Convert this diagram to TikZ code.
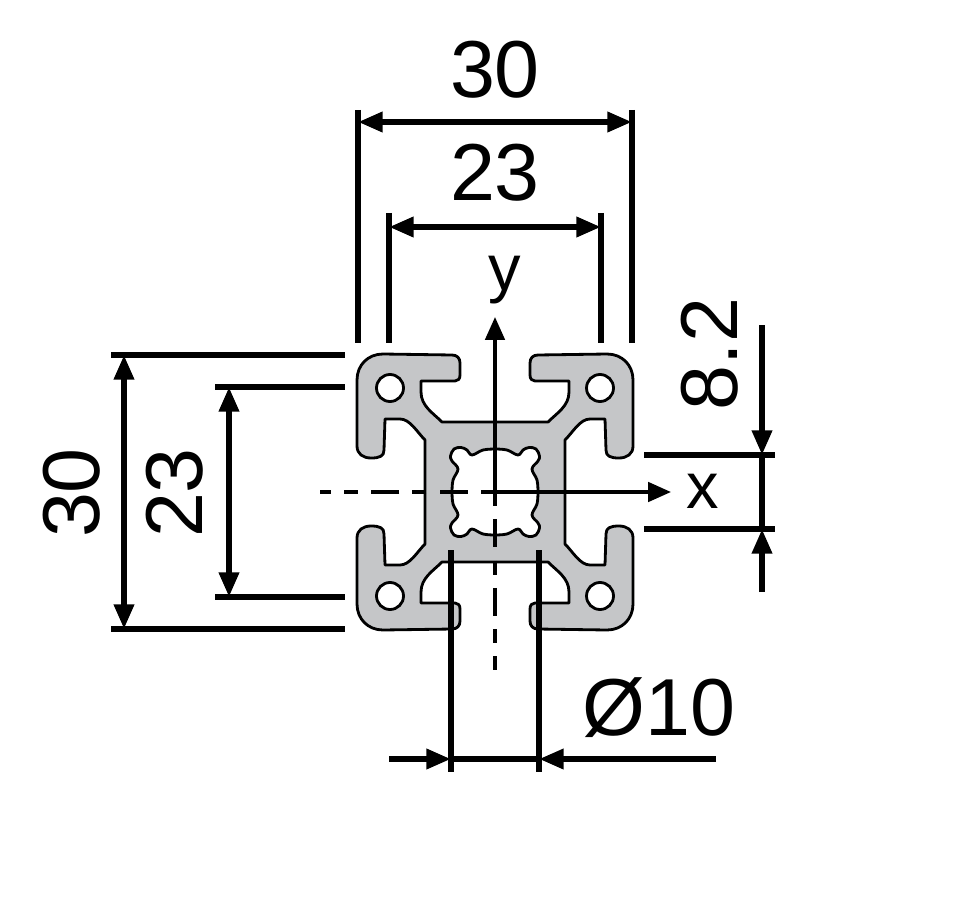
\documentclass[tikz,border=0pt]{standalone}
\usepackage{fontspec}
\setmainfont{Liberation Sans}
\usetikzlibrary{arrows.meta}
\definecolor{profilegray}{RGB}{197,198,200}
\tikzset{
  dimline/.style={line width=3.2pt,black},
  dimarrow/.style={dimline,{Triangle[length=14pt,width=11pt]}-{Triangle[length=14pt,width=11pt]}},
  dimtip/.style={dimline,-{Triangle[length=14pt,width=11pt]}},
  axisline/.style={line width=2pt,black,-{Triangle[length=13pt,width=11pt]}},
  centerline/.style={line width=2.4pt,black,dash pattern=on 8pt off 7.5pt on 16pt off 7.5pt},
  outline/.style={line width=1.6pt,black,line join=round},
  biglabel/.style={font=\fontsize{46}{50}\selectfont,inner sep=0pt},
  axislabel/.style={font=\fontsize{37}{44}\selectfont,inner sep=0pt},
  quarterpath/.style={insert path={(0,-70) -- (-53,-70) .. controls (-62,-79) and (-74,-86) .. (-74,-100)
    -- (-74,-111) -- (-40,-111) .. controls (-37,-111) and (-35,-113) .. (-35,-117)
    -- (-35,-129) .. controls (-35,-134) and (-38,-137) .. (-43,-137)
    -- (-112,-138) .. controls (-127,-138) and (-138,-127) .. (-138,-112)
    -- (-138,-46) .. controls (-138,-38) and (-132,-34) .. (-124,-34)
    .. controls (-115,-34) and (-111,-36) .. (-111,-42)
    -- (-110,-73) -- (-95,-73) .. controls (-85,-73) and (-78,-60) .. (-70,-52) -- (-70,0)}},
  borepath/.style={insert path={plot[smooth,tension=0.6] coordinates {(0,-43) (-12,-42) (-23,-37) (-28,-42) (-34,-44.5) (-41,-43) (-44.5,-36) (-43,-31) (-37,-23) (-42,-12) (-43,0)}}}
}
\begin{document}
\begin{tikzpicture}[x=0.02cm,y=-0.02cm]
  \useasboundingbox (0,0) rectangle (972,905);
  % profile, one quadrant at a time
  \foreach \sx/\sy in {1/1,-1/1,1/-1,-1/-1} {
    \begin{scope}[shift={(495,492)},xscale=\sx,yscale=\sy]
      \fill[profilegray,quarterpath] -- (0,0) -- cycle;
      \draw[outline,quarterpath];
      \filldraw[outline,fill=white] (-105,-104) circle (13.5);
      \fill[white,borepath] -- (0,0) -- cycle;
      \draw[outline,borepath];
    \end{scope}
  }
  % axes
  \coordinate (origin) at (495,492);
  \coordinate (xend) at (671,492);
  \coordinate (yend) at (495,317);
  \coordinate (xback) at (320,492);
  \coordinate (yback) at (495,670);
  \draw[centerline] (origin) -- (xback);
  \draw[centerline] (origin) -- (yback);
  \draw[axisline] (origin) -- (xend);
  \draw[axisline] (origin) -- (yend);
  \node[axislabel] (xlabel) at (703,491) {x};
  \node[axislabel] (ylabel) at (505,280) {y};
  % top dimensions
  \coordinate (t30a) at (358,110);
  \coordinate (t30b) at (358,343);
  \coordinate (t30c) at (632,110);
  \coordinate (t30d) at (632,343);
  \coordinate (t23a) at (389,213);
  \coordinate (t23b) at (389,343);
  \coordinate (t23c) at (601,213);
  \coordinate (t23d) at (601,343);
  \coordinate (t30l) at (358,122);
  \coordinate (t30r) at (632,122);
  \coordinate (t23l) at (389,227);
  \coordinate (t23r) at (601,227);
  \draw[dimline] (t30a) -- (t30b);
  \draw[dimline] (t30c) -- (t30d);
  \draw[dimline] (t23a) -- (t23b);
  \draw[dimline] (t23c) -- (t23d);
  \draw[dimarrow] (t30l) -- (t30r);
  \draw[dimarrow] (t23l) -- (t23r);
  \node[biglabel] (top30) at (495,70) {30};
  \node[biglabel] (top23) at (495,173) {23};
  % left dimensions
  \coordinate (l30a) at (111,355);
  \coordinate (l30b) at (345,355);
  \coordinate (l30c) at (111,629);
  \coordinate (l30d) at (345,629);
  \coordinate (l23a) at (215,387);
  \coordinate (l23b) at (345,387);
  \coordinate (l23c) at (215,597);
  \coordinate (l23d) at (345,597);
  \coordinate (l30t) at (124,355);
  \coordinate (l30u) at (124,629);
  \coordinate (l23t) at (229,387);
  \coordinate (l23u) at (229,597);
  \draw[dimline] (l30a) -- (l30b);
  \draw[dimline] (l30c) -- (l30d);
  \draw[dimline] (l23a) -- (l23b);
  \draw[dimline] (l23c) -- (l23d);
  \draw[dimarrow] (l30t) -- (l30u);
  \draw[dimarrow] (l23t) -- (l23u);
  \node[biglabel,rotate=90] (left30) at (72,493) {30};
  \node[biglabel,rotate=90] (left23) at (175,493) {23};
  % slot offset on the right
  \coordinate (r82a) at (644,455);
  \coordinate (r82b) at (775,455);
  \coordinate (r82c) at (644,529);
  \coordinate (r82d) at (775,529);
  \coordinate (r82t) at (762,325);
  \coordinate (r82m) at (762,455);
  \coordinate (r82n) at (762,529);
  \coordinate (r82u) at (762,592);
  \draw[dimline] (r82a) -- (r82b);
  \draw[dimline] (r82c) -- (r82d);
  \draw[dimline] (r82m) -- (r82n);
  \draw[dimtip] (r82t) -- (r82m);
  \draw[dimtip] (r82u) -- (r82n);
  \node[biglabel,rotate=90] (right82) at (710,354) {8.2};
  % bore diameter
  \coordinate (b10a) at (451,550);
  \coordinate (b10b) at (451,772);
  \coordinate (b10c) at (539,550);
  \coordinate (b10d) at (539,772);
  \coordinate (b10l) at (389,759);
  \coordinate (b10m) at (451,759);
  \coordinate (b10n) at (539,759);
  \coordinate (b10r) at (716,759);
  \draw[dimline] (b10a) -- (b10b);
  \draw[dimline] (b10c) -- (b10d);
  \draw[dimline] (b10m) -- (b10n);
  \draw[dimtip] (b10l) -- (b10m);
  \draw[dimtip] (b10r) -- (b10n);
  \node[biglabel] (bore10) at (659,708) {Ø10};
\end{tikzpicture}
\end{document}
